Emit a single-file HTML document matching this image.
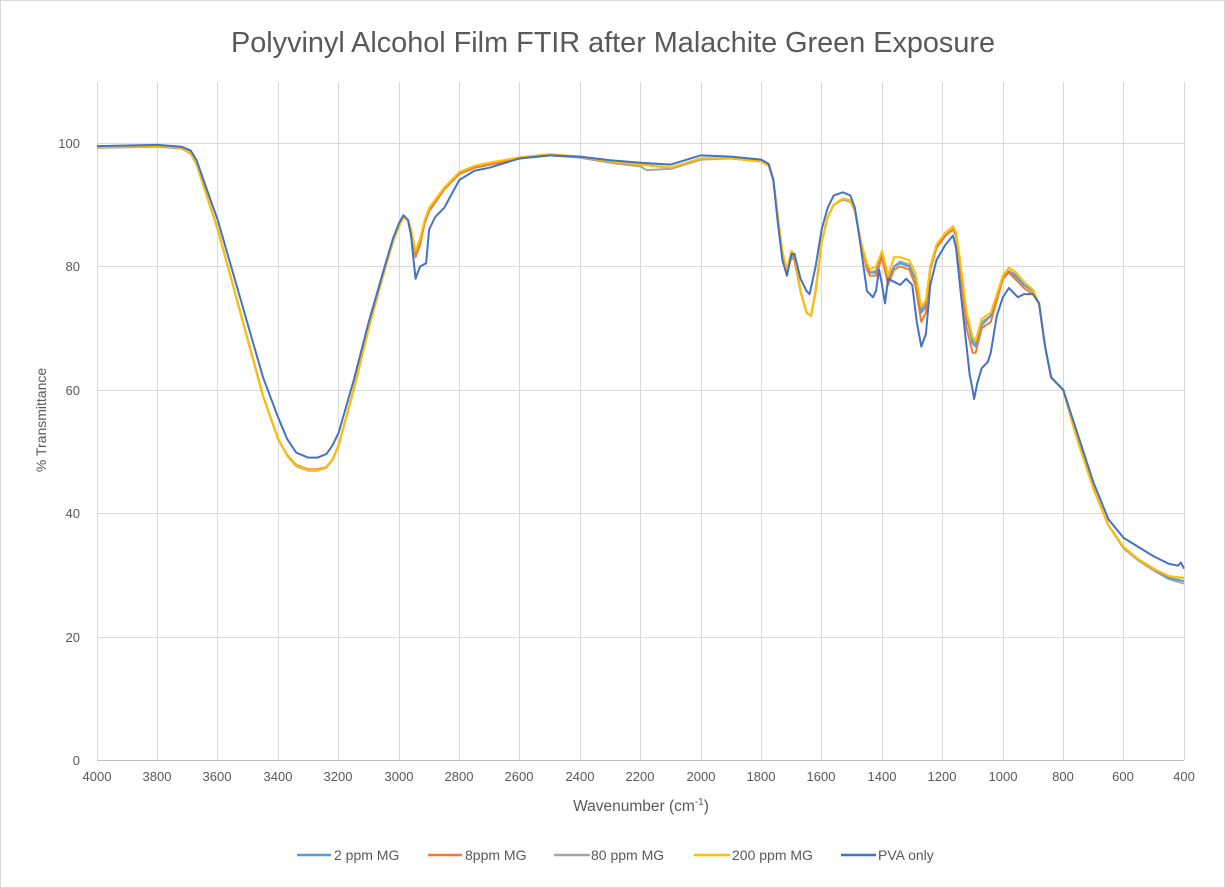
<!DOCTYPE html>
<html><head><meta charset="utf-8"><style>
html,body{margin:0;padding:0;background:#fff}
svg{display:block}
text{font-family:"Liberation Sans",sans-serif;fill:#595959}
</style></head><body>
<svg width="1225" height="888" viewBox="0 0 1225 888" xmlns="http://www.w3.org/2000/svg">
<rect x="0.5" y="0.5" width="1224" height="887" fill="#fff" stroke="#d9d9d9"/>
<text x="613" y="52" font-size="28.5" text-anchor="middle" textLength="764" lengthAdjust="spacingAndGlyphs">Polyvinyl  Alcohol Film FTIR after Malachite Green Exposure</text>
<g stroke="#d9d9d9" stroke-width="1">
<line x1="97" y1="143.5" x2="1184" y2="143.5"/><line x1="97" y1="266.5" x2="1184" y2="266.5"/>
<line x1="97" y1="390.5" x2="1184" y2="390.5"/><line x1="97" y1="513.5" x2="1184" y2="513.5"/>
<line x1="97" y1="637.5" x2="1184" y2="637.5"/>
<line x1="157.5" y1="82" x2="157.5" y2="760"/><line x1="217.5" y1="82" x2="217.5" y2="760"/>
<line x1="278.5" y1="82" x2="278.5" y2="760"/><line x1="338.5" y1="82" x2="338.5" y2="760"/>
<line x1="399.5" y1="82" x2="399.5" y2="760"/><line x1="459.5" y1="82" x2="459.5" y2="760"/>
<line x1="519.5" y1="82" x2="519.5" y2="760"/><line x1="580.5" y1="82" x2="580.5" y2="760"/>
<line x1="640.5" y1="82" x2="640.5" y2="760"/><line x1="701.5" y1="82" x2="701.5" y2="760"/>
<line x1="761.5" y1="82" x2="761.5" y2="760"/><line x1="821.5" y1="82" x2="821.5" y2="760"/>
<line x1="882.5" y1="82" x2="882.5" y2="760"/><line x1="942.5" y1="82" x2="942.5" y2="760"/>
<line x1="1003.5" y1="82" x2="1003.5" y2="760"/><line x1="1063.5" y1="82" x2="1063.5" y2="760"/>
<line x1="1123.5" y1="82" x2="1123.5" y2="760"/><line x1="1184.5" y1="82" x2="1184.5" y2="760"/>
<line x1="97.5" y1="82" x2="97.5" y2="760"/>
</g>
<line x1="97" y1="760.5" x2="1184" y2="760.5" stroke="#bfbfbf"/>
<g font-size="13" text-anchor="end">
<text x="80" y="148">100</text><text x="80" y="271">80</text><text x="80" y="395">60</text>
<text x="80" y="518">40</text><text x="80" y="642">20</text><text x="80" y="765">0</text>
</g>
<g font-size="13" text-anchor="middle">
<text x="97" y="781">4000</text><text x="157" y="781">3800</text><text x="217" y="781">3600</text><text x="278" y="781">3400</text><text x="338" y="781">3200</text><text x="399" y="781">3000</text><text x="459" y="781">2800</text><text x="519" y="781">2600</text><text x="580" y="781">2400</text><text x="640" y="781">2200</text><text x="701" y="781">2000</text><text x="761" y="781">1800</text><text x="821" y="781">1600</text><text x="882" y="781">1400</text><text x="942" y="781">1200</text><text x="1003" y="781">1000</text><text x="1063" y="781">800</text><text x="1123" y="781">600</text><text x="1184" y="781">400</text>
</g>
<text x="641" y="811" font-size="15.5" text-anchor="middle">Wavenumber (cm<tspan font-size="10" dy="-6">-1</tspan><tspan dy="6">)</tspan></text>
<text transform="translate(46,420) rotate(-90)" font-size="14" text-anchor="middle">% Transmittance</text>
<g transform="translate(97,760) scale(-0.30194,-6.17) translate(-4000,0)" fill="none" stroke-width="2" stroke-linejoin="round">
<polyline vector-effect="non-scaling-stroke" stroke="#a5a5a5" points="4000,99.2 3800,99.4 3720,99.1 3690,98.3 3670,96.5 3640,92 3600,86 3550,77 3500,68 3450,59 3400,52 3370,49.3 3340,47.6 3300,46.9 3270,46.9 3240,47.4 3220,48.6 3200,51 3150,60 3100,70 3050,79 3020,84 3000,86.5 2985,88 2970,87.5 2960,86 2945,82 2930,84 2915,87 2900,89 2850,92.5 2800,95 2750,96 2700,96.5 2600,97.5 2500,98 2400,97.6 2300,96.8 2200,96.2 2180,95.6 2100,95.8 2000,97.3 1900,97.5 1800,97 1775,96.3 1760,94 1745,88 1730,82 1715,79 1700,82 1690,81.5 1670,76 1650,72.5 1635,72 1620,76 1600,84 1580,88 1560,90 1530,90.8 1505,90.5 1490,89 1470,84 1450,80 1440,79 1420,79.3 1400,82 1380,78 1360,80 1340,80.8 1310,80.3 1290,78 1270,73 1255,74 1240,80 1220,83 1190,85 1165,86 1155,85 1140,80 1120,72 1100,68 1090,67.5 1070,71 1040,72 1020,75 1000,78 980,79.3 960,78.8 930,77 900,76 880,74 860,67 840,62 800,60 760,53 700,44 650,38 600,34.3 550,32.3 500,30.7 450,29.3 400,28.6"/>
<polyline vector-effect="non-scaling-stroke" stroke="#5b9bd5" points="4000,99.3 3800,99.5 3720,99.2 3690,98.4 3670,96.6 3640,92 3600,86 3550,77 3500,68 3450,59 3400,52 3370,49.4 3340,47.8 3300,47.1 3270,47.1 3240,47.5 3220,48.7 3200,51 3150,60 3100,70 3050,79 3020,84 3000,86.5 2985,88 2970,87.5 2960,86 2945,82 2930,84 2915,87 2900,89 2850,92.5 2800,95 2750,96 2700,96.5 2600,97.5 2500,98 2400,97.8 2300,97 2200,96.5 2100,96 2000,97.5 1900,97.5 1800,97 1775,96.3 1760,94 1745,88 1730,82 1715,78.5 1700,82 1690,81.5 1670,76 1650,72.5 1635,72 1620,76 1600,84 1580,88 1560,90 1530,91 1505,90.7 1490,89 1470,84 1450,80 1440,79 1420,79 1400,82 1380,77.5 1360,80 1340,80.5 1310,80 1290,78 1270,72.5 1255,73.5 1240,80 1220,83 1190,85 1165,86 1155,85 1140,80 1120,72 1100,67.5 1090,67 1070,70.5 1040,72 1020,75 1000,78 980,79 960,78.5 930,77 900,76 880,74 860,67 840,62 800,60 760,53 700,44 650,38 600,34.5 550,32.5 500,31 450,29.5 400,29"/>
<polyline vector-effect="non-scaling-stroke" stroke="#ed7d31" points="4000,99.3 3800,99.5 3720,99.2 3690,98.4 3670,96.6 3640,92 3600,86 3550,77 3500,68 3450,59 3400,52 3370,49.4 3340,47.8 3300,47.1 3270,47.1 3240,47.5 3220,48.7 3200,51 3150,60 3100,70 3050,79 3020,84 3000,86.5 2985,88 2970,87.5 2960,86 2945,81.5 2930,83.5 2915,87 2900,89 2850,92.5 2800,95 2750,96 2700,96.5 2600,97.5 2500,98 2400,97.8 2300,97 2200,96.5 2100,96 2000,97.5 1900,97.5 1800,97 1775,96.3 1760,94 1745,88 1730,82 1715,79 1700,81.5 1690,81 1670,76 1650,72.5 1635,72 1620,76 1600,84 1580,88 1560,90 1530,91 1505,90.7 1490,89 1470,84 1450,79.5 1440,78.5 1420,78.5 1400,81.5 1380,77 1360,79.5 1340,80 1310,79.5 1290,77 1270,71 1255,72.5 1240,79.5 1220,83 1190,85 1165,86 1155,85 1140,79 1120,70 1100,66 1090,66 1070,70 1040,71 1020,74.5 1000,78 980,79 960,78 930,76.5 900,75.5 880,74 860,67 840,62 800,60 760,53 700,44 650,38 600,34.5 550,32.5 500,31 450,29.8 400,29.5"/>
<polyline vector-effect="non-scaling-stroke" stroke="#ffc000" points="4000,99.3 3800,99.5 3720,99.2 3690,98.4 3670,96.6 3640,92 3600,86 3550,77 3500,68 3450,59 3400,52 3370,49.3 3340,47.7 3300,47 3270,47 3240,47.5 3220,48.7 3200,51 3150,60 3100,70 3050,79 3020,84 3000,86.5 2985,88 2970,87.5 2960,86 2945,82.5 2930,84.5 2915,87.5 2900,89.5 2850,92.8 2800,95.3 2750,96.3 2700,96.8 2600,97.7 2500,98.2 2400,97.8 2300,97 2200,96.5 2100,96 2000,97.5 1900,97.5 1800,97 1775,96.3 1760,94 1745,88 1730,82.5 1715,79.5 1700,82.5 1690,82 1670,76 1650,72.5 1635,72 1620,76 1600,84 1580,88 1560,90 1530,91 1505,90.7 1490,89 1470,84 1450,80.5 1440,79.5 1420,80 1400,82.5 1380,78.5 1360,81.5 1340,81.5 1310,81 1290,79 1270,73.5 1255,74.5 1240,80 1220,83.5 1190,85.5 1165,86.5 1155,85.5 1140,80.5 1120,72.5 1100,68.5 1090,68 1070,71.5 1040,72.5 1020,75.5 1000,78.5 980,79.8 960,79.2 930,77.5 900,76.2 880,74 860,67 840,62 800,60 760,53 700,44 650,38 600,34.5 550,32.5 500,31 450,29.8 400,29.5"/>
<polyline vector-effect="non-scaling-stroke" stroke="#4472c4" points="4000,99.5 3800,99.7 3720,99.4 3690,98.8 3670,97.2 3640,93 3600,87.5 3550,79 3500,70.5 3450,62 3400,55.5 3370,52 3340,49.8 3300,49 3270,49 3240,49.6 3220,51 3200,53 3150,61.5 3100,71 3050,79.5 3020,84.5 3000,87 2985,88.3 2970,87.5 2960,85 2945,78 2930,80 2910,80.5 2900,86 2880,88 2850,89.5 2800,94 2750,95.5 2700,96 2600,97.5 2500,98 2400,97.8 2300,97.2 2200,96.8 2100,96.5 2000,98 1900,97.8 1800,97.3 1775,96.6 1760,94 1745,87 1730,81 1715,78.5 1700,82 1690,82 1670,78 1650,76 1640,75.5 1620,80 1600,86 1580,89.5 1560,91.5 1530,92 1505,91.5 1490,89.5 1470,83 1450,76 1430,75 1420,76 1410,79.5 1400,77 1390,74 1380,78 1360,77.5 1340,77 1320,78 1300,77 1285,71 1270,67 1255,69 1240,77 1220,81 1190,83.5 1165,85 1155,83 1140,76 1120,67 1110,62.5 1100,60 1095,58.5 1085,61 1070,63.5 1050,64.5 1040,66 1020,72 1000,75 980,76.5 960,75.5 950,75 930,75.5 900,75.5 880,74 860,67 840,62 800,60 760,54 700,45 650,39 600,36 550,34.5 500,33 450,31.8 420,31.5 410,32 400,31"/>
</g>
<g stroke-width="2.5">
<line x1="297" y1="855" x2="331" y2="855" stroke="#5b9bd5"/>
<line x1="428" y1="855" x2="462" y2="855" stroke="#ed7d31"/>
<line x1="554" y1="855" x2="590" y2="855" stroke="#a5a5a5"/>
<line x1="694" y1="855" x2="730" y2="855" stroke="#ffc000"/>
<line x1="841" y1="855" x2="876" y2="855" stroke="#4472c4"/>
</g>
<g font-size="14">
<text x="334" y="860">2 ppm MG</text><text x="465" y="860">8ppm MG</text><text x="591" y="860">80 ppm MG</text><text x="732" y="860">200 ppm MG</text><text x="878" y="860">PVA only</text>
</g>
</svg>
</body></html>
